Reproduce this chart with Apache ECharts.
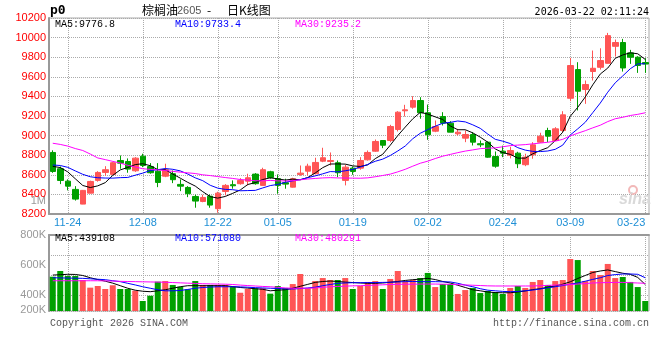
<!DOCTYPE html>
<html><head><meta charset="utf-8">
<script src="https://cdn.jsdelivr.net/npm/echarts@6/dist/echarts.min.js"></script>
<style>html,body{margin:0;padding:0;background:#fff}#c{width:660px;height:360px}</style>
</head><body><div id="c"></div>
<script>
const dates = ['11-20','11-21','11-24','11-25','11-26','11-27','11-28','12-01','12-02','12-03',
'12-04','12-05','12-08','12-09','12-10','12-11','12-12','12-15','12-16','12-17',
'12-18','12-19','12-22','12-23','12-24','12-25','12-26','12-29','12-30','12-31',
'01-05','01-06','01-07','01-08','01-09','01-12','01-13','01-14','01-15','01-16',
'01-19','01-20','01-21','01-22','01-23','01-26','01-27','01-28','01-29','01-30',
'02-02','02-03','02-04','02-05','02-06','02-09','02-10','02-11','02-12','02-13',
'02-24','02-25','02-26','02-27','03-02','03-03','03-04','03-05','03-06','03-09',
'03-10','03-11','03-12','03-13','03-16','03-17','03-18','03-19','03-20','03-23'];
const tickLabels = ['11-24','12-08','12-22','01-05','01-19','02-02','02-24','03-09','03-23'];

const openP = [8828,8662,8535,8451,8301,8413,8543,8624,8604,8746, 8736,8641,8790,8685,8637,8586,8611,8502,8471,8379,
 8328,8382,8254,8430,8499,8509,8535,8607,8492,8631, 8560,8519,8474,8604,8637,8611,8739,8736,8723,8543,
 8668,8668,8753,8841,8950,8950,9062,9253,9290,9358, 9233,9045,9195,9127,9018,8974,9011,8917,8933,8787,
 8841,8800,8821,8703,8804,8933,9052,8950,9052,9381, 9674,9470,9654,9697,9738,9911,9950,9844,9800,9745];
const closeP = [8634,8542,8484,8352,8441,8532,8624,8652,8723,8719, 8658,8770,8695,8621,8522,8652,8550,8484,8407,8332,
 8369,8291,8413,8492,8488,8543,8570,8509,8652,8573, 8492,8505,8560,8617,8688,8726,8774,8746,8621,8678,
 8634,8746,8828,8940,8902,9093,9239,9263,9358,9233, 9008,9093,9127,9035,9035,9011,8933,8906,8780,8688,
 8821,8848,8713,8780,8906,8994,8994,9069,9212,9715, 9453,9521,9687,9766,10020,9950,9690,9800,9715,9730];
const lowP = [8620,8505,8441,8337,8300,8410,8530,8590,8600,8662, 8621,8630,8678,8611,8474,8576,8515,8433,8372,8264,
 8320,8264,8213,8390,8458,8499,8492,8499,8490,8560, 8407,8458,8470,8590,8593,8605,8729,8695,8576,8492,
 8600,8652,8745,8835,8872,8933,9042,9195,9274,9172, 8957,9035,9103,9035,9001,8933,8899,8882,8774,8672,
 8780,8767,8668,8688,8764,8926,8933,8945,9035,9351, 9256,9324,9562,9674,9735,9807,9653,9732,9640,9640];
const highP = [8850,8685,8553,8484,8445,8540,8637,8688,8733,8797, 8767,8780,8815,8719,8719,8713,8644,8553,8484,8397,
 8397,8400,8427,8505,8543,8566,8611,8617,8672,8641, 8604,8560,8570,8695,8713,8774,8876,8828,8746,8703,
 8685,8780,8848,8960,8955,9110,9249,9314,9402,9392, 9317,9154,9239,9147,9069,9052,9035,8950,8940,8838,
 8897,8886,8835,8815,8933,9029,9080,9086,9249,9793, 9749,9562,9868,9891,10048,9980,9987,9875,9810,9790];

const ma5 = [8686,8674,8630,8560, 8491,8470,8487,8520,8594,8650,
 8675,8704,8713,8693,8653,8652,8608,8566,8523,8485, 8428,8377,8362,8379,8411,8445,8501,8520,8552,8569,
 8559,8546,8556,8549,8572,8619,8673,8710,8711,8709, 8691,8685,8701,8765,8810,8902,9000,9087,9171,9237,
 9220,9191,9164,9099,9060,9060,9028,8984,8933,8864, 8826,8809,8770,8770,8814,8848,8877,8949,9035,9197,
 9289,9394,9518,9628,9689,9789,9823,9845,9835,9777];
const ma10 = [8700,8695,8676,8640,8605,8580,8570,8567,8566,8571, 8573,8596,8617,8644,8652,8664,8656,8640,8608,8569,
 8540,8493,8464,8451,8448,8437,8439,8441,8466,8490, 8502,8524,8538,8551,8571,8589,8610,8633,8630,8641,
 8655,8679,8706,8738,8760,8797,8843,8894,8968,9024, 9061,9096,9126,9135,9149,9140,9110,9074,9016,8962,
 8943,8919,8877,8852,8839,8837,8843,8860,8903,9006, 9069,9136,9234,9332,9443,9539,9609,9682,9732,9733];
const ma30 = [8922,8910,8893,8868,8848,8812,8772,8755,8737,8720, 8697,8680,8662,8655,8650,8644,8635,8627,8620,8613,
 8600,8592,8582,8572,8563,8552,8546,8540,8538,8543, 8538,8537,8540,8549,8557,8563,8568,8571,8568,8567,
 8566,8565,8569,8580,8593,8607,8630,8656,8688,8718, 8739,8766,8790,8808,8826,8842,8854,8867,8871,8875,
 8886,8898,8903,8908,8916,8924,8932,8943,8962,8997, 9024,9050,9079,9106,9143,9172,9187,9205,9217,9233];

const volume = [522000,560000,527000,527000,500000,449000,460000,440000,465000,440000,
 440000,429000,360000,395000,489000,493000,467000,455000,438000,493000,
 467000,467000,467000,467000,455000,415000,440000,445000,445000,409000,
 460000,447000,473000,540000,445000,493000,513000,500000,500000,513000,
 440000,460000,487000,493000,440000,507000,560000,493000,500000,513000,
 547000,453000,473000,473000,407000,433000,447000,413000,427000,420000,
 407000,447000,460000,447000,487000,500000,467000,493000,500000,640000,
 633000,493000,560000,533000,607000,513000,520000,487000,453000,360000];
const volMa5 = [533000,535000,538000,537000,530000,515000,503000,492000,479000,462000,
 445000,432000,425000,422000,428000,435000,445000,455000,462000,462000,
 462000,462000,462000,462000,456000,450000,446000,442000,438000,428000,
 432000,435000,445000,458000,471000,484000,490000,493000,490000,486000,
 483000,480000,478000,478000,480000,485000,490000,497000,502000,506000,
 511000,503000,490000,480000,465000,450000,435000,428000,420000,416000,
 415000,415000,420000,427000,436000,442000,452000,460000,472000,488000,
 510000,530000,550000,560000,567000,556000,545000,538000,517000,470000];
const volMa10 = [515000,514000,513000,512000,511000,508000,505000,502000,495000,489000,
 478000,467000,455000,445000,435000,428000,428000,430000,437000,445000,
 450000,453000,455000,455000,455000,454000,452000,449000,447000,445000,
 443000,441000,440000,443000,447000,452000,462000,470000,478000,480000,
 482000,482000,483000,483000,484000,485000,487000,489000,490000,489000,
 489000,489000,488000,487000,478000,466000,455000,442000,432000,428000,
 424000,422000,424000,428000,433000,440000,448000,455000,463000,472000,
 480000,492000,504000,515000,530000,536000,540000,540000,538000,515000];
const volMa30 = [495000,495000,495000,495000,495000,495000,495000,494000,493000,491000,
 490000,489000,488000,487000,486000,485000,483000,481000,479000,477000,
 475000,474000,473000,472000,470000,466000,463000,460000,457000,455000,
 451000,447000,445000,445000,445000,447000,451000,455000,457000,459000,
 461000,462000,464000,466000,468000,470000,471000,472000,472000,473000,
 473000,473000,472000,471000,469000,467000,465000,463000,461000,460000,
 460000,460000,460000,460000,460000,462000,464000,466000,467000,470000,
 473000,476000,480000,482000,483000,484000,484000,482000,480000,478000];

const priceMin = 8200, priceMax = 10200, priceStep = 200;
const volMin = 293333, volMax = 800000;
const volTickValues = [400000, 600000, 800000];
const volExtraLabels = ['1M', '200K'];
const priceLegend = ['MA5:9776.8', 'MA10:9733.4', 'MA30:9235.2'];
const volLegend = ['MA5:439108', 'MA10:571080', 'MA30:480291'];
const maColors = ['#000000', '#0000ff', '#ff00ff'];

const UP = '#ff5555', DOWN = '#00a000';
const candles = dates.map((d, i) => [openP[i], closeP[i], lowP[i], highP[i]]);
const volData = volume.map((v, i) => ({ value: v, itemStyle: { color: closeP[i] >= openP[i] ? UP : DOWN } }));
const showTick = (i, v) => tickLabels.indexOf(v !== undefined ? v : dates[i]) >= 0;
const dotted = { color: '#aaaaaa', type: 'dotted', width: 1 };
const MONO = '10px "Liberation Mono", monospace';

function legendTexts(list, y) {
  return list.map((t, k) => ({ type: 'text', x: 55 + 120 * k, y: y, z: 100,
    style: { text: t, fill: maColors[k], font: MONO, align: 'left', verticalAlign: 'middle' } }));
}
function maLine(data, k, xi, yi) {
  return { type: 'line', data: data, xAxisIndex: xi, yAxisIndex: yi, symbol: 'none', smooth: false,
    lineStyle: { color: maColors[k], width: 1 }, z: 5, silent: true };
}

const chart = echarts.init(document.getElementById('c'), null, { renderer: 'canvas', width: 660, height: 360 });
chart.setOption({
  animation: false,
  backgroundColor: '#ffffff',
  grid: [
    { left: 49, right: 11, top: 18, height: 196, show: true, borderColor: '#aaaaaa', borderWidth: 1, outerBoundsMode: 'none' },
    { left: 49, right: 11, top: 235, height: 76, show: true, borderColor: '#aaaaaa', borderWidth: 1, outerBoundsMode: 'none' }
  ],
  xAxis: [
    { type: 'category', gridIndex: 0, data: dates, boundaryGap: true,
      axisLine: { lineStyle: { color: '#999999', width: 2 } }, axisTick: { show: false },
      axisLabel: { interval: showTick, color: '#1e8fd6', fontFamily: 'Liberation Sans', fontSize: 11, margin: 3, alignMaxLabel: 'right' },
      splitLine: { show: true, interval: showTick, alignWithLabel: true, lineStyle: dotted } },
    { type: 'category', gridIndex: 1, data: dates, boundaryGap: true,
      axisLine: { lineStyle: { color: '#999999', width: 2 } }, axisTick: { show: false }, axisLabel: { show: false },
      splitLine: { show: true, interval: showTick, alignWithLabel: true, lineStyle: dotted } }
  ],
  yAxis: [
    { type: 'value', gridIndex: 0, min: priceMin, max: priceMax, interval: priceStep,
      axisLine: { show: true, lineStyle: { color: '#999999', width: 2 } }, axisTick: { show: false },
      axisLabel: { formatter: v => String(v), color: '#ff0000', fontFamily: 'Liberation Sans', fontSize: 11, margin: 3, padding: [0, 0, 4, 0] },
      splitLine: { show: true, lineStyle: dotted } },
    { type: 'value', gridIndex: 1, min: volMin, max: volMax,
      axisLine: { show: true, lineStyle: { color: '#999999', width: 2 } }, axisTick: { show: false },
      axisLabel: { customValues: volTickValues, formatter: v => Math.round(v / 1000) + 'K', color: '#999999',
        fontFamily: 'Liberation Sans', fontSize: 11, margin: 3, padding: [0, 0, 8, 0], hideOverlap: false },
      splitLine: { show: false } },
    { type: 'value', gridIndex: 1, min: 0, max: 3.8, interval: 1, inverse: true,
      axisLine: { show: false }, axisTick: { show: false }, axisLabel: { show: false },
      splitLine: { show: true, lineStyle: dotted } }
  ],
  series: [
    { type: 'candlestick', xAxisIndex: 0, yAxisIndex: 0, data: candles, barWidth: 6, z: 3,
      itemStyle: { color: UP, color0: DOWN, borderColor: UP, borderColor0: DOWN, borderWidth: 1 } },
    maLine(ma5, 0, 0, 0), maLine(ma10, 1, 0, 0), maLine(ma30, 2, 0, 0),
    { type: 'bar', xAxisIndex: 1, yAxisIndex: 1, data: volData, barWidth: 6, z: 3 },
    maLine(volMa5, 0, 1, 1), maLine(volMa10, 1, 1, 1), maLine(volMa30, 2, 1, 1)
  ],
  graphic: [
    { type: 'text', x: 50, y: 11, style: { text: 'p0', fill: '#000', font: 'bold 13px "DejaVu Sans Mono"', align: 'left', verticalAlign: 'middle' } },
    { type: 'text', x: 142, y: 10, style: { text: '棕榈油', fill: '#000', font: '12px "Noto Sans CJK SC"', align: 'left', verticalAlign: 'middle' } },
    { type: 'text', x: 177, y: 11, style: { text: '2605', fill: '#555', font: '11px "Liberation Sans"', align: 'left', verticalAlign: 'middle' } },
    { type: 'text', x: 207, y: 10, style: { text: '-', fill: '#000', font: '12px "Noto Sans CJK SC"', align: 'left', verticalAlign: 'middle' } },
    { type: 'text', x: 227, y: 10, style: { text: '日K线图', fill: '#000', font: '12px "Noto Sans CJK SC"', align: 'left', verticalAlign: 'middle' } },
    { type: 'text', x: 649, y: 12, style: { text: '2026-03-22 02:11:24', fill: '#000', font: '10px "DejaVu Sans Mono"', align: 'right', verticalAlign: 'middle' } },
    ...legendTexts(priceLegend, 24),
    ...legendTexts(volLegend, 238),
    { type: 'text', x: 46, y: 201, style: { text: volExtraLabels[0], fill: '#999999', font: '11px "Liberation Sans"', align: 'right', verticalAlign: 'middle' } },
    { type: 'text', x: 46, y: 310, style: { text: volExtraLabels[1], fill: '#999999', font: '11px "Liberation Sans"', align: 'right', verticalAlign: 'middle' } },
    { type: 'text', x: 50, y: 323, style: { text: 'Copyright 2026 SINA.COM', fill: '#555', font: MONO, align: 'left', verticalAlign: 'middle' } },
    { type: 'text', x: 649, y: 323, style: { text: 'http://finance.sina.com.cn', fill: '#555', font: MONO, align: 'right', verticalAlign: 'middle' } },
    { type: 'circle', shape: { cx: 633, cy: 190, r: 4 }, style: { fill: 'none', stroke: '#f2b8b8', lineWidth: 2 }, z: 1 },
    { type: 'text', x: 619, y: 200, z: 1, style: { text: 'sina', fill: '#d9d9d9', font: 'italic bold 16px "Liberation Sans"', align: 'left', verticalAlign: 'middle' } }
  ]
});
</script></body></html>
